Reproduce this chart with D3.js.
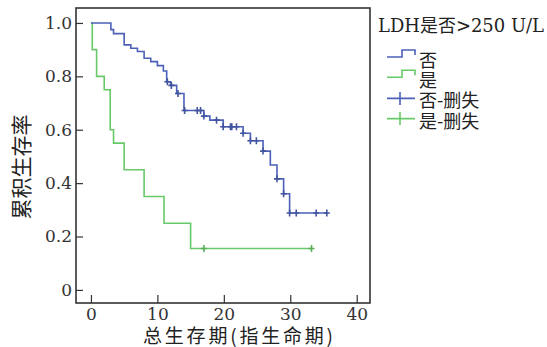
<!DOCTYPE html>
<html lang="zh">
<head>
<meta charset="UTF-8">
<title>LDH 生存曲线</title>
<script src="https://d3js.org/d3.v7.min.js"></script>
<style>
body {
  margin: 0;
  background: white;
}
.tick text {
  font-family: "DejaVu Serif", serif;
  font-size: 17px;
  fill: #333;
}
.tick line {
  stroke: #333;
  stroke-width: 1.2px;
}
.cjk {
  font-family: "Noto Sans CJK SC", sans-serif;
  fill: #222;
}
</style>
</head>
<body>
<div id="km"></div>
<script>

// data
var groups = ["否", "是"];
var legendTitle = "LDH是否>250 U/L";
var xTitle = "总生存期(指生命期)";
var yTitle = "累积生存率";
var xTicks = [0, 10, 20, 30, 40];
var yTicks = [0, 0.2, 0.4, 0.6, 0.8, 1.0];

// group 否 : event times and survival after each event
var noTimes = [3.0, 3.4, 5.0, 6.0, 7.0, 8.0, 9.0, 10.0, 10.9, 11.4, 12.0, 12.9, 14.0, 17.0, 17.9, 19.9, 22.9, 24.0, 25.9, 27.0, 28.0, 29.0, 29.9];
var noSurv = [0.975, 0.96, 0.918, 0.905, 0.893, 0.868, 0.855, 0.84, 0.82, 0.78, 0.766, 0.736, 0.672, 0.651, 0.636, 0.611, 0.587, 0.559, 0.52, 0.468, 0.416, 0.36, 0.288];
var noCensor = [11.5, 12.1, 13.1, 14.1, 16.0, 16.5, 17.0, 18.9, 19.9, 21.0, 21.2, 21.9, 22.9, 24.0, 24.9, 25.9, 28.0, 29.0, 29.9, 30.9, 33.9, 35.5];
var noEnd = 35.6;

// group 是
var yesTimes = [0.2, 0.85, 2.0, 2.9, 3.4, 5.0, 8.0, 11.0, 15.0];
var yesSurv = [0.9, 0.8, 0.75, 0.6, 0.55, 0.45, 0.35, 0.25, 0.155];
var yesCensor = [17.0, 33.2];
var yesEnd = 33.2;

var colors = ["#4c60b9", "#68c968"];

var W = 547, H = 347;
var frame = {left: 76, top: 8, right: 370, bottom: 303};

var svg = d3.select("#km")
  .append("svg")
    .attr("width", W)
    .attr("height", H);

svg.append("rect")
  .attr("width", W)
  .attr("height", H)
  .attr("fill", "white");

var x = d3.scaleLinear()
  .domain([-2.25, 42])
  .range([frame.left, frame.right]);

var y = d3.scaleLinear()
  .domain([-0.049, 1.056])
  .range([frame.bottom, frame.top]);

// axes, ticks pointing into the plot
var xAxis = svg.append("g")
  .attr("transform", "translate(0," + frame.bottom + ")")
  .call(d3.axisBottom(x).tickValues(xTicks).tickSize(-8).tickPadding(5));
xAxis.select(".domain").remove();

var yAxis = svg.append("g")
  .attr("transform", "translate(" + frame.left + ",0)")
  .call(d3.axisLeft(y).tickValues(yTicks).tickSize(-7).tickPadding(4)
    .tickFormat(function(d) { return d === 0 ? "0" : d3.format(".1f")(d); }));
yAxis.select(".domain").remove();

// frame
svg.append("rect")
  .attr("x", frame.left)
  .attr("y", frame.top)
  .attr("width", frame.right - frame.left)
  .attr("height", frame.bottom - frame.top)
  .attr("fill", "none")
  .attr("stroke", "#333")
  .attr("stroke-width", 1.6);

// build step curves
function stepPoints(times, surv, end) {
  var pts = [[0, 1]];
  times.forEach(function(t, i) { pts.push([t, surv[i]]); });
  pts.push([end, surv[surv.length - 1]]);
  return pts;
}
function survAt(times, surv, t) {
  var s = 1;
  times.forEach(function(tt, i) { if (tt <= t) s = surv[i]; });
  return s;
}

var line = d3.line()
  .x(function(d) { return x(d[0]); })
  .y(function(d) { return y(d[1]); })
  .curve(d3.curveStepAfter);

var series = [
  {times: noTimes, surv: noSurv, censor: noCensor, end: noEnd, color: colors[0]},
  {times: yesTimes, surv: yesSurv, censor: yesCensor, end: yesEnd, color: colors[1]}
];

// draw 是 first so 否 sits on top
series.slice().reverse().forEach(function(s) {
  svg.append("path")
    .attr("d", line(stepPoints(s.times, s.surv, s.end)))
    .attr("fill", "none")
    .attr("stroke", s.color)
    .attr("stroke-width", 1.6);

  svg.append("g")
    .selectAll("path")
    .data(s.censor)
    .enter()
    .append("path")
      .attr("d", function(t) {
        var cx = x(t), cy = y(survAt(s.times, s.surv, t));
        return "M" + (cx - 3) + "," + cy + "H" + (cx + 3) +
               "M" + cx + "," + (cy - 3.5) + "V" + (cy + 3.5);
      })
      .attr("stroke", d3.color(s.color).darker(0.4))
      .attr("stroke-width", 1.6);
});

// axis titles
svg.append("text")
  .attr("class", "cjk")
  .attr("x", 143)
  .attr("y", 334)
  .attr("dominant-baseline", "central")
  .attr("textLength", 190)
  .attr("lengthAdjust", "spacing")
  .style("font-size", "19px")
  .text(xTitle);

svg.append("text")
  .attr("class", "cjk")
  .attr("transform", "translate(20,167) rotate(-90)")
  .attr("dominant-baseline", "central")
  .attr("text-anchor", "middle")
  .style("font-size", "21px")
  .text(yTitle);

// legend
svg.append("text")
  .attr("x", 378)
  .attr("y", 32)
  .attr("textLength", 166)
  .attr("lengthAdjust", "spacingAndGlyphs")
  .style("font-family", "'DejaVu Serif', 'Noto Sans CJK SC', serif")
  .style("font-size", "18px")
  .style("fill", "#222")
  .text(legendTitle);

var legendRows = [
  {label: groups[0], color: colors[0], kind: "step"},
  {label: groups[1], color: colors[1], kind: "step"},
  {label: groups[0] + "-删失", color: colors[0], kind: "cross"},
  {label: groups[1] + "-删失", color: colors[1], kind: "cross"}
];

var lg = svg.append("g");
legendRows.forEach(function(r, i) {
  var cy = 58 + i * 20.2;
  var d;
  if (r.kind === "step") {
    d = "M387," + (cy - 1) + "H402V" + (cy - 8) + "H415V" + (cy - 3);
  } else {
    d = "M387," + cy + "H415M400," + (cy - 6.5) + "V" + (cy + 6.5);
  }
  lg.append("path")
    .attr("d", d)
    .attr("fill", "none")
    .attr("stroke", r.color)
    .attr("stroke-width", 1.6);
  lg.append("text")
    .attr("class", "cjk")
    .attr("x", 419)
    .attr("y", cy + 1)
    .attr("dominant-baseline", "central")
    .style("font-size", "18px")
    .text(r.label);
});

</script>
</body>
</html>
